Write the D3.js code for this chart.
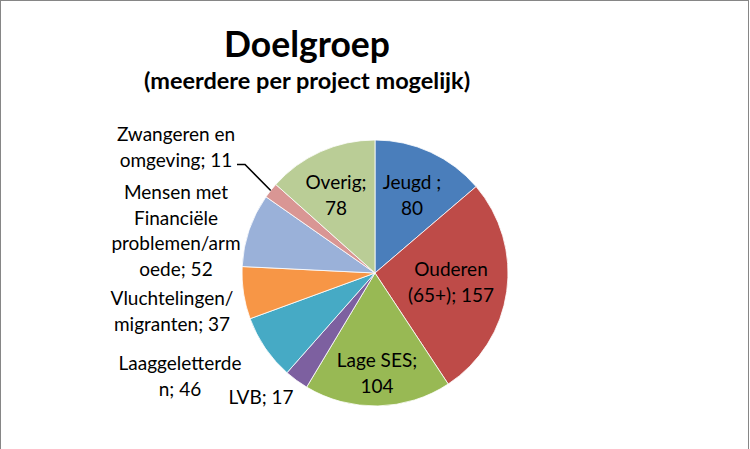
<!DOCTYPE html>
<html>
<head>
<meta charset="utf-8">
<script src="https://cdn.jsdelivr.net/npm/d3@7"></script>
<style>
  html, body { margin: 0; padding: 0; background: #fff; }
  svg { display: block; }
</style>
</head>
<body>
<svg id="chart" width="750" height="449"></svg>
<script>
// ---- Data ----
const title = "Doelgroep";
const subtitle = "(meerdere per project mogelijk)";
const categories = ["Jeugd", "Ouderen (65+)", "Lage SES", "LVB", "Laaggeletterden",
  "Vluchtelingen/ migranten", "Mensen met Financiële problemen/armoede",
  "Zwangeren en omgeving", "Overig"];
const values = [80, 157, 104, 17, 46, 37, 52, 11, 78];
// label text lines as wrapped in the chart; "{v}" is replaced by the value
const labelLines = [
  ["Jeugd ;", "{v}"],
  ["Ouderen", "(65+); {v}"],
  ["Lage SES;", "{v}"],
  ["LVB; {v}"],
  ["Laaggeletterde", "n; {v}"],
  ["Vluchtelingen/", "migranten; {v}"],
  ["Mensen met", "Financiële", "problemen/arm", "oede; {v}"],
  ["Zwangeren en", "omgeving; {v}"],
  ["Overig;", "{v}"]
];
const colors = ["#4A7EBB", "#BE4B48", "#98B954", "#7D60A0", "#46AAC5",
  "#F79646", "#9AB1D9", "#D99694", "#BACD96"];

// ---- Layout ----
const W = 750, H = 449;
const cx = 375, cy = 273, R = 133;
const lineH = 25.5;
// label anchor: x centre, y of first baseline
const labelPos = [
  {x: 412, y: 189}, {x: 451, y: 276}, {x: 377, y: 367}, {x: 261, y: 404},
  {x: 180, y: 370}, {x: 172, y: 305}, {x: 176, y: 199}, {x: 176, y: 141},
  {x: 336, y: 189}
];

const svg = d3.select("#chart");
svg.append("rect").attr("x", 0.5).attr("y", 0.5).attr("width", 748).attr("height", 470)
  .attr("fill", "#fff").attr("stroke", "#868686").attr("stroke-width", 1);

svg.append("text").attr("x", 307).attr("y", 57).attr("text-anchor", "middle")
  .attr("font-family", "Lato, 'Open Sans', sans-serif").attr("font-weight", "bold")
  .attr("font-size", 35.5).attr("fill", "#000").text(title);
svg.append("text").attr("x", 307).attr("y", 89).attr("text-anchor", "middle")
  .attr("font-family", "Lato, 'Open Sans', sans-serif").attr("font-weight", "bold")
  .attr("font-size", 23.5).attr("fill", "#000").text(subtitle);

const data = categories.map((c, i) => ({cat: c, value: values[i], i}));
const pie = d3.pie().sort(null).value(d => d.value);
const arcs = pie(data);
const arc = d3.arc().innerRadius(0).outerRadius(R);
const color = d3.scaleOrdinal().domain(categories).range(colors);

const g = svg.append("g").attr("transform", `translate(${cx},${cy})`);
g.selectAll("path.slice").data(arcs).enter().append("path")
  .attr("class", "slice")
  .attr("d", arc)
  .attr("fill", d => color(d.data.cat))
  .attr("stroke", "#fff").attr("stroke-width", 0.8);

// leader line for Zwangeren
const leaderIdx = 7;
{
  const a = arcs[leaderIdx];
  const mid = (a.startAngle + a.endAngle) / 2;
  const px = cx + R * Math.sin(mid), py = cy - R * Math.cos(mid);
  const lp = labelPos[leaderIdx];
  const ly = lp.y + lineH - 2;
  svg.append("polyline")
    .attr("points", `${px},${py} ${245},${ly} ${237},${ly}`)
    .attr("fill", "none").attr("stroke", "#000").attr("stroke-width", 1.6);
}

const labels = svg.append("g").attr("font-family", "Lato, 'Open Sans', sans-serif")
  .attr("font-size", 19).attr("fill", "#000").attr("text-anchor", "middle");
arcs.forEach((a, i) => {
  const t = labels.append("text");
  labelLines[i].forEach((ln, k) => {
    t.append("tspan").attr("x", labelPos[i].x).attr("y", labelPos[i].y + k * lineH)
      .text(ln.replace("{v}", a.data.value));
  });
});
</script>
</body>
</html>
